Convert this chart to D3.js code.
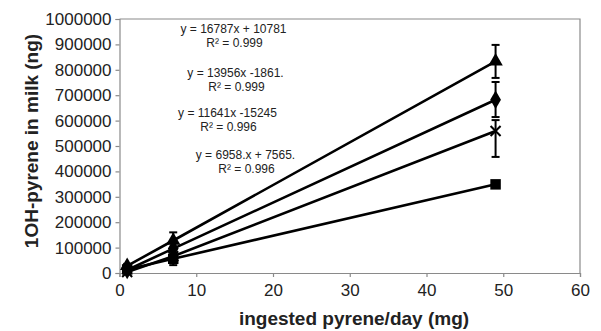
<!DOCTYPE html>
<html>
<head>
<meta charset="utf-8">
<script src="https://cdn.jsdelivr.net/npm/d3@7"></script>
<style>
  body { margin: 0; background: #fff; }
  text { font-family: "Liberation Sans", Arial, sans-serif; }
</style>
</head>
<body>
<div id="chart"></div>
<script>
// data
const doses = [1, 7, 49];
const triangleVals = [28000, 128000, 833000];
const diamondVals = [12000, 96000, 682000];
const crossVals = [4000, 66000, 559000];
const squareVals = [14000, 56000, 349000];
const triangleErrUp = [8000, 32000, 65000];
const triangleErrDown = [8000, 32000, 65000];
const diamondErrUp = [6000, 25000, 70000];
const diamondErrDown = [6000, 25000, 68000];
const crossErrUp = [5000, 30000, 43000];
const crossErrDown = [5000, 35000, 102000];
const squareErrUp = [4000, 15000, 10000];
const squareErrDown = [4000, 15000, 10000];
const yTicks = [0, 100000, 200000, 300000, 400000, 500000, 600000, 700000, 800000, 900000, 1000000];
const xTicks = [0, 10, 20, 30, 40, 50, 60];
const eqLines = ["y = 16787x + 10781", "y = 13956x -1861.", "y = 11641x -15245", "y = 6958.x + 7565."];
const r2Lines = ["R\u00b2 = 0.999", "R\u00b2 = 0.999", "R\u00b2 = 0.996", "R\u00b2 = 0.996"];

const series = [
  { name: "triangle", vals: triangleVals, up: triangleErrUp, down: triangleErrDown },
  { name: "diamond", vals: diamondVals, up: diamondErrUp, down: diamondErrDown },
  { name: "cross", vals: crossVals, up: crossErrUp, down: crossErrDown },
  { name: "square", vals: squareVals, up: squareErrUp, down: squareErrDown }
];

// set the dimensions and margins of the graph
const margin = { top: 19, right: 21, bottom: 58, left: 119.5 },
  width = 601 - margin.left - margin.right,
  height = 331 - margin.top - margin.bottom;

const svg = d3
  .select("#chart")
  .append("svg")
  .attr("width", 601)
  .attr("height", 331)
  .append("g")
  .attr("transform", `translate(${margin.left},${margin.top})`);

const x = d3.scaleLinear().domain([0, 60]).range([0, width]);
const y = d3.scaleLinear().domain([0, 1000000]).range([height, 0]);

// plot border (top and right)
svg.append("path")
  .attr("d", `M0,0H${width}V${height}`)
  .attr("fill", "none")
  .attr("stroke", "#8a8a8a")
  .attr("stroke-width", 1.2);

// X axis
const xAxis = svg.append("g")
  .attr("transform", `translate(0, ${height})`)
  .call(d3.axisBottom(x).tickValues(xTicks).tickSize(4).tickPadding(7));

// Y axis
const yAxis = svg.append("g")
  .call(d3.axisLeft(y).tickValues(yTicks).tickFormat(d3.format("d")).tickSize(4).tickPadding(4));

[xAxis, yAxis].forEach(a => {
  a.selectAll("path, line").attr("stroke", "#8a8a8a").attr("stroke-width", 1.2);
  a.selectAll("text")
    .style("font-size", "17px")
    .style("font-family", "'Liberation Sans', Arial, sans-serif")
    .attr("fill", "#222");
});

// axis titles
svg.append("text")
  .attr("x", 234.5)
  .attr("y", height + 52)
  .attr("text-anchor", "middle")
  .style("font-size", "19px")
  .style("font-weight", "bold")
  .attr("fill", "#222")
  .text("ingested pyrene/day (mg)");

svg.append("text")
  .attr("transform", `translate(${-margin.left + 38}, ${122}) rotate(-90)`)
  .attr("text-anchor", "middle")
  .style("font-size", "19px")
  .style("font-weight", "bold")
  .attr("fill", "#222")
  .text("1OH-pyrene in milk (ng)");

// lines through the points
const line = d3.line()
  .x((d, i) => x(doses[i]))
  .y(d => y(d));

series.forEach(s => {
  svg.append("path")
    .datum(s.vals)
    .attr("d", line)
    .attr("fill", "none")
    .attr("stroke", "#000")
    .attr("stroke-width", 2.6);
});

// error bars
series.forEach(s => {
  const g = svg.append("g").attr("stroke", "#000").attr("stroke-width", 2);
  s.vals.forEach((v, i) => {
    const cx = x(doses[i]);
    const top = y(v + s.up[i]), bot = y(v - s.down[i]);
    g.append("line").attr("x1", cx).attr("x2", cx).attr("y1", top).attr("y2", bot);
    g.append("line").attr("x1", cx - 4).attr("x2", cx + 4).attr("y1", top).attr("y2", top);
    g.append("line").attr("x1", cx - 4).attr("x2", cx + 4).attr("y1", bot).attr("y2", bot);
  });
});

// markers
const symbols = {
  triangle: d3.symbol().type(d3.symbolTriangle).size(90),
  diamond: d3.symbol().type(d3.symbolDiamond).size(100),
  square: d3.symbol().type(d3.symbolSquare).size(110)
};

series.forEach(s => {
  s.vals.forEach((v, i) => {
    const cx = x(doses[i]), cy = y(v);
    if (s.name === "cross") {
      svg.append("path")
        .attr("d", `M${cx - 5},${cy - 5}L${cx + 5},${cy + 5}M${cx - 5},${cy + 5}L${cx + 5},${cy - 5}`)
        .attr("stroke", "#000")
        .attr("stroke-width", 2);
    } else {
      svg.append("path")
        .attr("transform", `translate(${cx},${cy})`)
        .attr("d", symbols[s.name]())
        .attr("fill", "#000");
    }
  });
});

// trendline equations
const eqPos = [[114, 14], [116, 58], [108, 98], [126, 140]];
eqLines.forEach((t, i) => {
  svg.append("text")
    .attr("x", eqPos[i][0])
    .attr("y", eqPos[i][1])
    .attr("text-anchor", "middle")
    .style("font-size", "12px")
    .attr("fill", "#222")
    .text(t);
  svg.append("text")
    .attr("x", eqPos[i][0] + 1)
    .attr("y", eqPos[i][1] + 14)
    .attr("text-anchor", "middle")
    .style("font-size", "12px")
    .attr("fill", "#222")
    .text(r2Lines[i]);
});
</script>
</body>
</html>
